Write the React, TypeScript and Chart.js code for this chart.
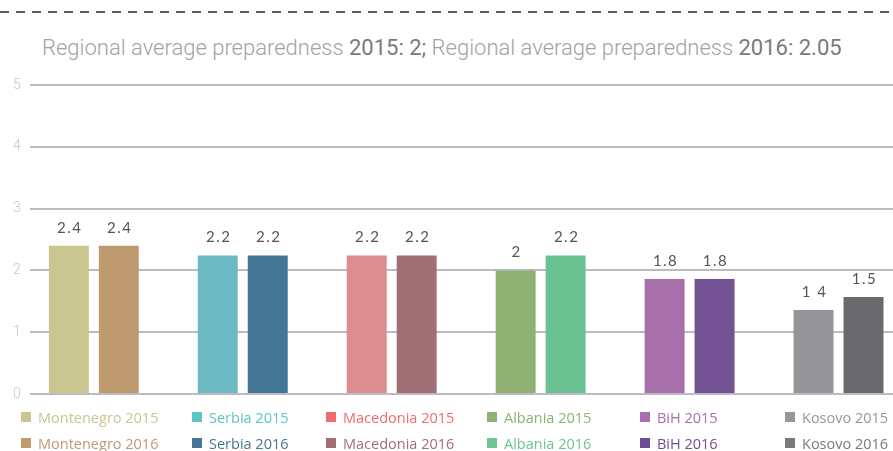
import React, { useEffect, useRef } from "react";
import { Chart, registerables } from "chart.js";

Chart.register(...registerables);

const countries = ["Montenegro", "Serbia", "Macedonia", "Albania", "BiH", "Kosovo"];
const years = ["2015", "2016"];
const values2015 = [2.4, 2.24, 2.24, 2.0, 1.86, 1.36];
const values2016 = [2.4, 2.24, 2.24, 2.24, 1.86, 1.57];
const labels2015 = ["2.4", "2.2", "2.2", "2", "1.8", "1 4"];
const labels2016 = ["2.4", "2.2", "2.2", "2.2", "1.8", "1.5"];
const barColors2015 = ["#c9c68f", "#6db9c4", "#dd8c90", "#8fb274", "#a870ab", "#959599"];
const barColors2016 = ["#bd9b6e", "#447796", "#a06f75", "#69c192", "#725292", "#6a6a6e"];
const legendColors2015 = ["#cac68f", "#5ec5c2", "#ef6b6e", "#8db273", "#a86fae", "#97979b"];
const legendColors2016 = ["#bf9b6e", "#447796", "#a06f75", "#6cc592", "#6f4d92", "#7a7a7e"];
const yTicks = [0, 1, 2, 3, 4, 5];
const titleParts = [
  { text: "Regional average preparedness ", strong: false },
  { text: "2015: 2;", strong: true },
  { text: " Regional average preparedness ", strong: false },
  { text: "2016: 2.05", strong: true },
];
const legendColumnsX = [21, 192, 326, 487, 640, 785];

const valueLabelPlugin = {
  id: "valueLabels",
  afterDatasetsDraw(chart: any) {
    const ctx = chart.ctx;
    const labelSets = [labels2015, labels2016];
    ctx.save();
    ctx.font = "400 15px Lato";
    (ctx as any).letterSpacing = "1.5px";
    ctx.fillStyle = "#555559";
    ctx.textAlign = "center";
    ctx.textBaseline = "middle";
    chart.data.datasets.forEach((ds: any, di: number) => {
      const meta = chart.getDatasetMeta(di);
      meta.data.forEach((el: any, i: number) => {
        ctx.fillText(labelSets[di][i], el.x + 1, el.y - 18);
      });
    });
    ctx.restore();
  },
};

export default function App() {
  const canvasRef = useRef<HTMLCanvasElement | null>(null);

  useEffect(() => {
    document.body.style.margin = "0";
    const ctx = canvasRef.current!.getContext("2d")!;
    const chart = new Chart(ctx, {
      type: "bar",
      data: {
        datasets: [
          {
            label: years[0],
            data: values2015.map((v, i) => ({ x: i, y: v })),
            backgroundColor: barColors2015,
          },
          {
            label: years[1],
            data: values2016.map((v, i) => ({ x: i, y: v })),
            backgroundColor: barColors2016,
          },
        ],
      },
      options: {
        animation: false,
        responsive: false,
        maintainAspectRatio: false,
        categoryPercentage: 0.671,
        barPercentage: 0.8,
        layout: { padding: { top: 85, bottom: 57, left: 4, right: 0 } },
        plugins: {
          legend: { display: false },
          tooltip: { enabled: false },
          title: { display: false },
        },
        scales: {
          x: {
            type: "linear",
            display: false,
            offset: false,
            min: -0.43,
            max: 5.5,
            afterBuildTicks: (scale: any) => {
              scale.ticks = countries.map((_, i) => ({ value: i }));
            },
          },
          y: {
            min: 0,
            max: 5,
            border: { display: false },
            grid: { color: "#bcbcc0", lineWidth: 2, drawTicks: false },
            ticks: {
              stepSize: 1,
              padding: 9,
              color: "#c6c6ca",
              font: { family: "Roboto", size: 14, weight: 300 as any },
              callback: (v: any) => (yTicks.includes(Number(v)) ? String(v) : ""),
            },
          },
        },
      } as any,
      plugins: [valueLabelPlugin],
    });
    return () => chart.destroy();
  }, []);

  return (
    <div
      style={{
        position: "absolute",
        left: 0,
        top: 0,
        width: 893,
        height: 451,
        overflow: "hidden",
        background: "#ffffff",
        fontFamily: "Roboto, sans-serif",
      }}
    >
      <div
        style={{
          position: "absolute",
          left: 0,
          top: 11,
          width: 893,
          height: 2,
          background: "repeating-linear-gradient(to right, #5a5a5e 0 9px, transparent 9px 16px)",
        }}
      />
      <div
        style={{
          position: "absolute",
          left: 42,
          top: 35,
          whiteSpace: "nowrap",
          fontSize: 22,
          fontWeight: 300,
          letterSpacing: "0px",
          color: "#a2a2a5",
        }}
      >
        {titleParts.map((p, i) => (
          <span key={i} style={p.strong ? { color: "#7a7a7d", fontWeight: 400 } : undefined}>
            {p.text}
          </span>
        ))}
      </div>
      <canvas
        ref={canvasRef}
        width={913}
        height={451}
        style={{ position: "absolute", left: 0, top: 0, width: 913, height: 451 }}
      />
      {countries.map((c, i) =>
        years.map((y, r) => {
          const col = r === 0 ? legendColors2015[i] : legendColors2016[i];
          return (
            <div
              key={c + y}
              style={{
                position: "absolute",
                left: legendColumnsX[i],
                top: r === 0 ? 407 : 433,
                height: 20,
                display: "flex",
                alignItems: "center",
                whiteSpace: "nowrap",
                fontFamily: "'Open Sans', sans-serif",
                fontSize: 14.5,
                color: col,
              }}
            >
              <span style={{ display: "inline-block", width: 10, height: 10, background: col, marginRight: 7 }} />
              <span>{c + " " + y}</span>
            </div>
          );
        })
      )}
    </div>
  );
}
